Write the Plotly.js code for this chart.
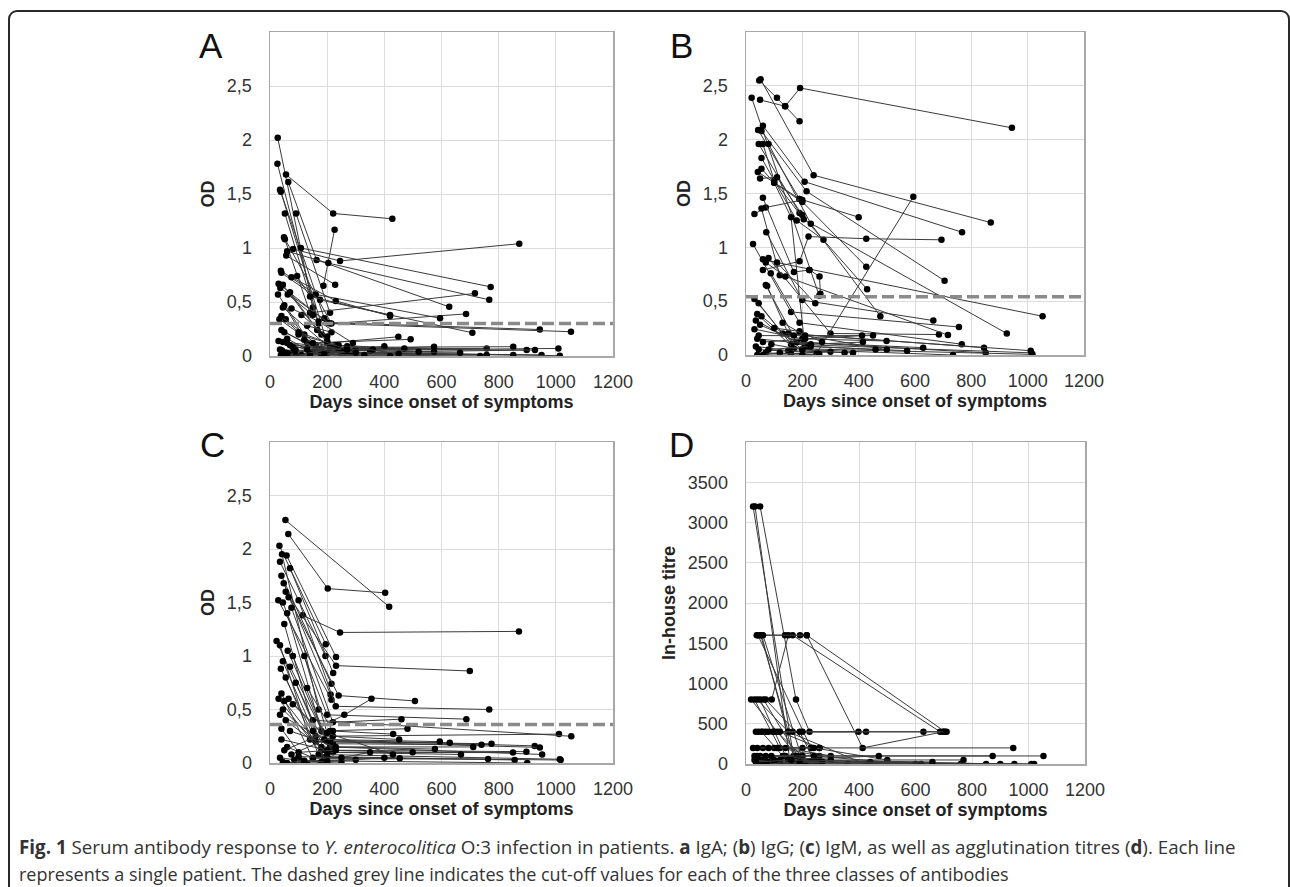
<!DOCTYPE html>
<html>
<head>
<meta charset="utf-8">
<script src="https://cdn.plot.ly/plotly-3.0.1.min.js"></script>
<style>
  html, body { margin: 0; padding: 0; background: #fff; }
  #wrap { position: relative; width: 1290px; height: 887px; overflow: hidden; }
  #frame { position: absolute; left: 8px; top: 10px; width: 1278px; height: 920px;
           border: 2px solid #2a2a2a; border-radius: 9px; pointer-events: none; }
  #chart { position: absolute; left: 0; top: 0; width: 1290px; height: 887px; }
</style>
</head>
<body>
<div id="wrap">
  <div id="chart"></div>
  <div id="frame"></div>
</div>
<script>
// ---------------- DATA ----------------
// Each inner array is one patient: days since onset and measured value.
const A_days = [
  [27,150],[26,170],[56,221,428],[64,163,627],[35,190],[38,200],[91,210],[52,180],
  [49,215,686],[52,140,717],[108,772],[81,245,872],[187,226],[60,204,767],[57,228],
  [38,160,595],[40,175,708],[30,200,944],[36,210,1053],[75,230,420],[95,140,420],
  [45,165],[70,200,449],[62,150],[28,120],[50,130,492],[45,220],[33,160],[55,180,758],
  [40,170,1009],[50,200,950],[30,150,1014],[45,210,851],[60,250,851],[35,180,898],
  [42,240,927],[55,200,758],[65,260,735],[70,300,574],[80,350,574],[90,280,665],
  [48,110,420],[100,230,470],[120,260,400],[38,90,180],[60,140,330],[110,200],
  [130,215],[150,270,520],[85,190,360],[200,240,450],[60,130,300],[40,100,270],[75,170,290]
];
const A_od = [
  [2.02,0.45],[1.78,0.30],[1.68,1.32,1.27],[1.61,0.89,0.455],[1.54,0.35],[1.52,0.12],[1.32,0.40],[1.32,0.20],
  [1.10,0.30,0.39],[1.08,0.40,0.58],[1.00,0.64],[0.99,0.88,1.04],[0.65,1.17],[0.97,0.86,0.52],[0.93,0.66],
  [0.79,0.57,0.35],[0.77,0.52,0.215],[0.67,0.31,0.245],[0.63,0.30,0.225],[0.73,0.51,0.37],[0.74,0.55,0.38],
  [0.66,0.24],[0.59,0.12,0.178],[0.57,0.38],[0.57,0.20],[0.47,0.12,0.154],[0.45,0.05],[0.34,0.10],[0.34,0.07,0.07],
  [0.24,0.05,0.07],[0.22,0.03,0.01],[0.14,0.04,0.003],[0.13,0.08,0.086],[0.12,0.02,0.01],[0.06,0.03,0.055],
  [0.05,0.06,0.055],[0.03,0.02,0.01],[0.02,0.01,0.0],[0.10,0.06,0.086],[0.08,0.05,0.04],[0.05,0.03,0.03],
  [0.02,0.01,0.0],[0.20,0.10,0.07],[0.15,0.05,0.09],[0.01,0.0,0.01],[0.0,0.02,0.01],[0.38,0.18],
  [0.28,0.22],[0.12,0.09,0.04],[0.05,0.02,0.06],[0.14,0.10,0.02],[0.16,0.06,0.03],[0.37,0.22,0.06],[0.44,0.32,0.12]
];

const B_days = [
  [52,240,869],[47,110,139,192,944],[50,139,190],[20,260],[60,208,767],[55,215,705],[43,190,400],
  [45,190,430],[60,100,205,926],[80,230,477],[70,1053],[55,180,275],[42,190,427],[55,100,200],
  [50,110,200],[100,160,208],[30,70,200],[60,170,225],[55,120],[72,200,665],[25,160,756],
  [60,110,246],[80,300,685],[70,140,717],[88,190,766],[60,190,222,427,694],[75,150,845],
  [70,180,851],[30,130,1011],[45,160,1013],[40,170,1017],[55,200,735],[35,180,629],[50,220,572],
  [30,200,499],[45,170,451],[40,230,415],[60,210,412],[35,150,380],[45,252,594],[70,160,300],
  [40,120,250],[90,200,350],[100,190,270],[130,210,500],[225,261,264],[60,200,260],[80,230,460]
];
const B_od = [
  [2.56,1.67,1.23],[2.55,2.39,2.31,2.48,2.11],[2.37,2.31,2.17],[2.39,0.55],[2.13,1.61,1.14],[2.08,1.52,0.69],[2.09,1.45,1.28],
  [1.96,1.32,0.61],[1.96,1.62,1.26,0.20],[1.96,1.22,0.36],[0.88,0.36],[1.83,1.25,1.07],[1.70,1.45,0.82],[1.73,1.60,1.42],
  [1.64,1.65,1.30],[1.60,1.28,0.10],[1.31,1.37,1.44],[1.46,0.77,0.79],[1.36,0.74],[1.14,0.51,0.32],[1.03,0.40,0.26],
  [0.89,0.86,0.48],[0.90,0.20,0.19],[0.86,0.73,0.185],[0.76,0.30,0.10],[0.79,0.87,1.10,1.08,1.07],[0.64,0.20,0.068],
  [0.65,0.12,0.02],[0.52,0.20,0.04],[0.48,0.10,0.02],[0.38,0.06,0.006],[0.36,0.05,0.0],[0.32,0.12,0.068],[0.28,0.08,0.04],
  [0.24,0.15,0.13],[0.18,0.18,0.18],[0.15,0.10,0.12],[0.12,0.15,0.18],[0.08,0.04,0.02],[0.05,0.02,1.47],[0.02,0.01,0.03],
  [0.0,0.02,0.0],[0.10,0.05,0.02],[0.25,0.22,0.12],[0.30,0.18,0.05],[0.79,0.73,0.57],[0.0,0.0,0.01],[0.05,0.08,0.05]
];

const C_days = [
  [54,417],[64,202,403],[33,195],[35,194],[58,231],[42,170],[70,221],[40,215],[114,245,871],[48,212],
  [29,215],[55,231,699],[65,240,507],[100,230,767],[45,200,687],[75,220,460],[60,180,481],[50,160,1011],
  [23,150,1054],[35,140,926],[62,200,944],[80,210,952],[45,180,897],[70,220,850],[38,190,1017],[55,170,1014],
  [90,200,856],[40,150,763],[30,200,900],[50,160,775],[65,220,740],[45,180,711],[80,210,629],[35,190,594],
  [55,200,668],[70,230,577],[40,200,499],[60,150,454],[150,260,355],[50,210,431],[75,220,452],[35,110,300],
  [45,130,250],[85,180,400],[100,250,350],[60,120,200],[120,200,430],[130,220],[40,100,230]
];
const C_od = [
  [2.27,1.46],[2.14,1.63,1.59],[2.03,1.11],[1.88,1.00],[1.94,0.99],[1.95,0.50],[1.82,0.84],[1.75,0.74],[1.38,1.22,1.23],[1.68,0.64],
  [1.52,0.59],[1.60,0.91,0.86],[1.55,0.63,0.58],[1.52,0.53,0.50],[1.50,0.45,0.41],[1.45,0.38,0.41],[1.40,0.30,0.32],[1.30,0.25,0.27],
  [1.14,0.40,0.25],[1.10,0.22,0.16],[1.05,0.20,0.146],[1.00,0.15,0.08],[0.95,0.12,0.106],[0.90,0.10,0.097],[0.88,0.05,0.028],[0.80,0.08,0.035],
  [0.75,0.06,0.028],[0.65,0.04,0.037],[0.60,0.02,0.0],[0.58,0.20,0.18],[0.60,0.18,0.17],[0.50,0.15,0.15],[0.55,0.20,0.19],[0.45,0.22,0.20],
  [0.40,0.10,0.08],[0.30,0.15,0.13],[0.22,0.12,0.10],[0.15,0.05,0.045],[0.30,0.45,0.60],[0.12,0.30,0.27],[0.08,0.25,0.22],[0.05,0.02,0.03],
  [0.01,0.0,0.01],[0.03,0.01,0.05],[0.06,0.05,0.10],[0.0,0.02,0.01],[1.00,0.28,0.08],[0.70,0.30],[0.32,0.10,0.12]
];

const D_days = [
  [25,168],[32,156],[50,177,225],[38,138,165,687],[91,150],[191,215,413,699],[45,215,705],[52,150],[60,200],[42,230],[55,175],
  [18,180],[30,120,260],[40,150,420],[50,140],[62,200],[70,230],
  [35,60,100,398,425],[45,165,628,699],[70,200,710],[55,130],[80,110,220],[95,190,240],[120,260],
  [25,60,946],[40,100,200,260],[80,140,300],[110,240,500],
  [30,200,1053],[50,180,873],[40,120,470],[70,240,500],[90,300,770],
  [40,120,760],[55,200,850],[65,150,900],[80,230,1010],[100,260,950],[45,170,360],[60,250,600],
  [120,210,430],[150,270,440],[30,100,620],[75,190,1020],[35,160,660]
];
const D_titre = [
  [3200,100],[3200,25],[3200,800,400],[1600,1600,1600,400],[800,1600],[1600,1600,200,400],[1600,1600,400],[1600,400],[1600,50],[1600,200],[1600,0],
  [800,100],[800,200,100],[800,400,0],[800,100],[800,0],[800,200],
  [400,400,400,400,400],[400,400,400,400],[400,400,400],[400,100],[400,400,25],[400,400,50],[400,200],
  [200,200,200],[200,200,200,200],[200,200,100],[200,200,50],
  [100,100,100],[100,100,100],[100,50,100],[100,100,25],[100,50,50],
  [0,25,0],[25,0,0],[50,50,0],[25,25,0],[50,25,0],[25,0,0],[0,25,0],
  [25,0,0],[50,25,25],[50,25,0],[0,25,0],[25,50,25]
];

const cutoffs = {A: 0.30, B: 0.54, C: 0.36};
const odTickVals = [0, 0.5, 1, 1.5, 2, 2.5];
const odTickText = ['0', '0,5', '1', '1,5', '2', '2,5'];
const titreTickVals = [0, 500, 1000, 1500, 2000, 2500, 3000, 3500];
const titreTickText = ['0', '500', '1000', '1500', '2000', '2500', '3000', '3500'];
const dayTickVals = [0, 200, 400, 600, 800, 1000, 1200];
const panelLetters = ['A', 'B', 'C', 'D'];
const xTitle = 'Days since onset of symptoms';
const yTitles = ['OD', 'OD', 'OD', 'In-house titre'];
const captionLine1 = '<b>Fig. 1</b> Serum antibody response to <i>Y. enterocolitica</i> O:3 infection in patients. <b>a</b> IgA; (<b>b</b>) IgG; (<b>c</b>) IgM, as well as agglutination titres (<b>d</b>). Each line';
const captionLine2 = 'represents a single patient. The dashed grey line indicates the cut-off values for each of the three classes of antibodies';

// ---------------- BUILD ----------------
const W = 1290, H = 887;
const px = v => v / W;
const py = v => 1 - v / H;

const panels = [
  {days: A_days, vals: A_od, xa: 'x',  ya: 'y',  L: 270, R: 613,  T: 32,  B: 356},
  {days: B_days, vals: B_od, xa: 'x2', ya: 'y2', L: 746, R: 1084, T: 32,  B: 355},
  {days: C_days, vals: C_od, xa: 'x3', ya: 'y3', L: 270, R: 613,  T: 442, B: 763},
  {days: D_days, vals: D_titre, xa: 'x4', ya: 'y4', L: 746, R: 1085, T: 442, B: 764}
];

const traces = [];
panels.forEach(p => {
  p.days.forEach((d, i) => {
    traces.push({
      type: 'scatter', mode: 'lines+markers', x: d, y: p.vals[i],
      xaxis: p.xa, yaxis: p.ya, showlegend: false, hoverinfo: 'skip',
      line: {color: '#3a3a3a', width: 1},
      marker: {color: '#000', size: 6.5}
    });
  });
});

const tickFont = {family: 'Liberation Sans, Arial, sans-serif', size: 18, color: '#333'};
const titleFont = {family: 'Liberation Sans, Arial, sans-serif', size: 18, color: '#222', weight: 'bold'};

function xAxis(p, anchor) {
  return {
    domain: [px(p.L), px(p.R)], anchor: anchor, range: [0, 1200],
    tickvals: dayTickVals, ticks: 'outside', ticklen: 9, tickcolor: 'rgba(0,0,0,0)',
    tickfont: tickFont, showgrid: true, gridcolor: '#dcdcdc', gridwidth: 1,
    showline: true, linecolor: '#a8a8a8', linewidth: 1.5, mirror: true, zeroline: false,
    title: {text: '<b>' + xTitle + '</b>', font: titleFont, standoff: 4}
  };
}
function yAxis(p, anchor, isTitre, title, standoff) {
  return {
    domain: [py(p.B), py(p.T)], anchor: anchor,
    range: isTitre ? [0, 4000] : [0, 3],
    tickvals: isTitre ? titreTickVals : odTickVals,
    ticktext: isTitre ? titreTickText : odTickText,
    ticks: 'outside', ticklen: 13, tickcolor: 'rgba(0,0,0,0)',
    tickfont: tickFont, showgrid: true, gridcolor: '#dcdcdc', gridwidth: 1,
    showline: true, linecolor: '#a8a8a8', linewidth: 1.5, mirror: true, zeroline: false,
    title: {text: '<b>' + title + '</b>', font: titleFont, standoff: standoff}
  };
}

const layout = {
  width: W, height: H, margin: {l: 0, r: 0, t: 0, b: 0},
  paper_bgcolor: '#fff', plot_bgcolor: '#fff',
  xaxis:  xAxis(panels[0], 'y'),
  yaxis:  yAxis(panels[0], 'x', false, yTitles[0], 7),
  xaxis2: xAxis(panels[1], 'y2'),
  yaxis2: yAxis(panels[1], 'x2', false, yTitles[1], 7),
  xaxis3: xAxis(panels[2], 'y3'),
  yaxis3: yAxis(panels[2], 'x3', false, yTitles[2], 7),
  xaxis4: xAxis(panels[3], 'y4'),
  yaxis4: yAxis(panels[3], 'x4', true, yTitles[3], 7),
  shapes: [
    ['x', 'y', cutoffs.A], ['x2', 'y2', cutoffs.B], ['x3', 'y3', cutoffs.C]
  ].map(([xa, ya, v]) => ({
    type: 'line', xref: xa + ' domain', yref: ya, x0: 0, x1: 1, y0: v, y1: v,
    line: {color: '#8a8a8a', width: 3.5, dash: '12px,5px'}, layer: 'above'
  })),
  annotations: [
    {text: panelLetters[0], x: px(211), y: py(46)},
    {text: panelLetters[1], x: px(681), y: py(46)},
    {text: panelLetters[2], x: px(212), y: py(444)},
    {text: panelLetters[3], x: px(681), y: py(444)}
  ].map(a => Object.assign(a, {
    xref: 'paper', yref: 'paper', showarrow: false, xanchor: 'center', yanchor: 'middle',
    font: {family: 'Liberation Sans, Arial, sans-serif', size: 35, color: '#111'}
  })).concat([
    {text: captionLine1, x: px(17), y: py(847), size: 18.8},
    {text: captionLine2, x: px(17), y: py(874), size: 18}
  ].map(a => {
    const s = a.size; delete a.size;
    return Object.assign(a, {
      xref: 'paper', yref: 'paper', showarrow: false, xanchor: 'left', yanchor: 'middle',
      font: {family: 'Open Sans, Noto Sans, sans-serif', size: s, color: '#333'}
    });
  }))
};

Plotly.newPlot('chart', traces, layout, {staticPlot: true, displayModeBar: false});
</script>
</body>
</html>
